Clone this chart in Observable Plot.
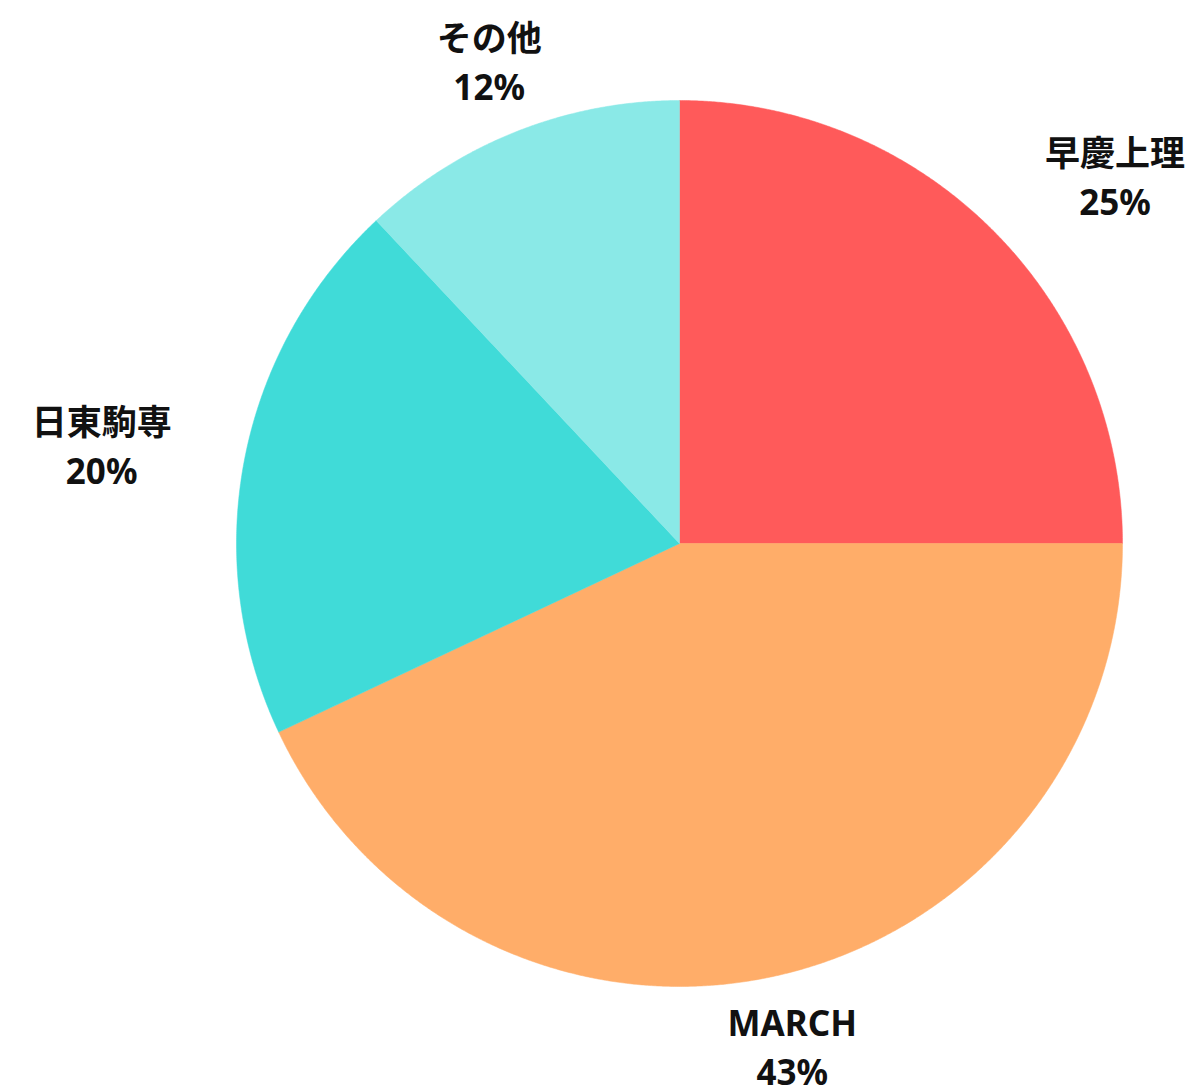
<!DOCTYPE html>
<html>
<head>
<meta charset="utf-8">
<script src="https://cdn.jsdelivr.net/npm/d3@7"></script>
<script src="https://cdn.jsdelivr.net/npm/@observablehq/plot@0.6"></script>
<style>
  html, body { margin: 0; padding: 0; background: #fff; }
  #chart svg { display: block; }
</style>
</head>
<body>
<div id="chart"></div>
<script>
const categories = ["早慶上理", "MARCH", "日東駒専", "その他"];
const values = [25, 43, 20, 12];
const colors = ["#FF5A5A", "#FFAD69", "#40DBD8", "#8AE9E7"];

const W = 1195, H = 1088;
const cx = 679, cy = 543, R = 443;  // pixel geometry of the pie frame
const total = d3.sum(values);
const FONT = "'Noto Sans', 'Noto Sans CJK JP', sans-serif";
const FS = 35;

// build slices (unit radius coordinates, angle clockwise from top)
const slices = [];
let acc = 0;
categories.forEach((c, i) => {
  const a0 = acc / total * 2 * Math.PI;
  acc += values[i];
  const a1 = acc / total * 2 * Math.PI;
  slices.push({cat: c, value: values[i], a0, a1, mid: (a0 + a1) / 2});
});

const polyPts = [];
for (const s of slices) {
  polyPts.push({cat: s.cat, x: 0, y: 0});
  const n = Math.max(2, Math.ceil((s.a1 - s.a0) / (Math.PI / 720)));
  for (let k = 0; k <= n; k++) {
    const a = s.a0 + (s.a1 - s.a0) * k / n;
    polyPts.push({cat: s.cat, x: Math.sin(a), y: Math.cos(a)});
  }
  polyPts.push({cat: s.cat, x: 0, y: 0});
}

// text measurement for block alignment
const ctx = document.createElement("canvas").getContext("2d");
ctx.font = `bold ${FS}px ${FONT}`;
const labelR = 517 / R;
const labels = slices.map(s => {
  const sx = Math.sin(s.mid);
  const text = `${s.cat}\n${s.value}%`;
  const w = Math.max(ctx.measureText(s.cat).width, ctx.measureText(`${s.value}%`).width);
  const shift = sx > 0.5 ? w / 2 : sx < -0.5 ? -w / 2 : 0;
  return {
    text,
    x: labelR * sx + shift / R,
    y: labelR * Math.cos(s.mid)
  };
});

const plot = Plot.plot({
  width: W,
  height: H,
  margin: 0,
  x: {domain: [-cx / R, (W - cx) / R], range: [0, W], axis: null},
  y: {domain: [(cy - H) / R, cy / R], range: [H, 0], axis: null},
  color: {domain: categories, range: colors},
  style: {fontFamily: FONT, background: "#fff"},
  marks: [
    Plot.line(polyPts, {x: "x", y: "y", z: "cat", fill: "cat", stroke: "cat", strokeWidth: 0.5, curve: "linear"}),
    Plot.text(labels, {
      x: "x", y: "y", text: "text", dy: -3,
      textAnchor: "middle", lineAnchor: "middle",
      fontSize: FS, lineHeight: 1.4, fontWeight: "bold", fill: "#111"
    })
  ]
});
document.getElementById("chart").appendChild(plot);
</script>
</body>
</html>
